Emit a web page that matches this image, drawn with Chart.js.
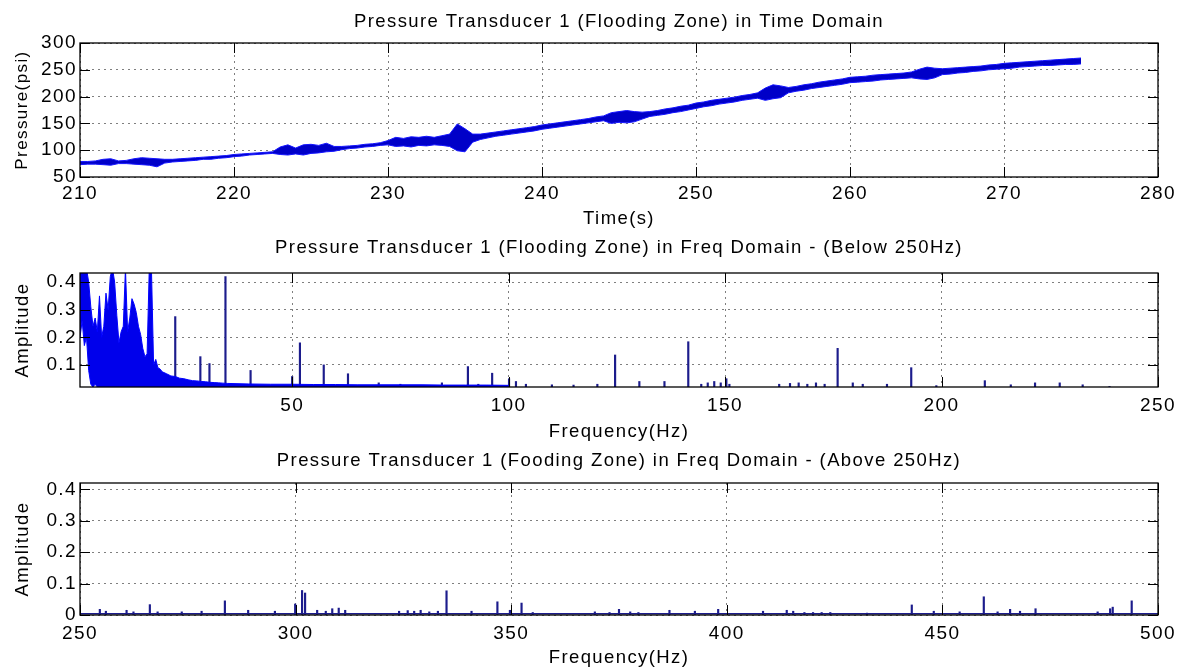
<!DOCTYPE html>
<html>
<head>
<meta charset="utf-8">
<title>Pressure Transducer 1 (Flooding Zone)</title>
<script src="https://cdn.jsdelivr.net/npm/chart.js@4.4.1/dist/chart.umd.min.js"></script>
<style>
    html, body { margin: 0; padding: 0; background: #fff; }
    #wrap { position: relative; width: 1177px; height: 667px; overflow: hidden; }
    canvas { position: absolute; left: 0; }
</style>
</head>
<body>
<div id="wrap">
    <canvas id="timeChart" width="1177" height="230" style="top:0px"></canvas>
    <canvas id="lowFreqChart" width="1177" height="215" style="top:230px"></canvas>
    <canvas id="highFreqChart" width="1177" height="222" style="top:445px"></canvas>
</div>
<script>
// Pressure transducer 1 (flooding zone) - time and frequency domain

// Time domain: band of the noisy trace (low / high edge), every 0.5 s
const time1 = [
    210, 210.5, 211, 211.5, 212, 212.5, 213, 213.5, 214, 214.5,
    215, 215.5, 216, 216.5, 217, 217.5, 218, 218.5, 219, 219.5,
    220, 220.5, 221, 221.5, 222, 222.5, 223, 223.5, 224, 224.5,
    225, 225.5, 226, 226.5, 227, 227.5, 228, 228.5, 229, 229.5,
    230, 230.5, 231, 231.5, 232, 232.5, 233, 233.5, 234, 234.5,
    235, 235.5, 236, 236.5, 237, 237.5, 238, 238.5, 239, 239.5,
    240, 240.5, 241, 241.5, 242, 242.5, 243, 243.5, 244, 244.5,
    245, 245.5, 246, 246.5, 247, 247.5, 248, 248.5, 249, 249.5,
    250, 250.5, 251, 251.5, 252, 252.5, 253, 253.5, 254, 254.5,
    255, 255.5, 256, 256.5, 257, 257.5, 258, 258.5, 259, 259.5,
    260, 260.5, 261, 261.5, 262, 262.5, 263, 263.5, 264, 264.5,
    265, 265.5, 266, 266.5, 267, 267.5, 268, 268.5, 269, 269.5,
    270, 270.5, 271, 271.5, 272, 272.5, 273, 273.5, 274, 274.5,
    275
];
const pressureLow = [
    73, 74, 74, 73, 72, 75, 75, 74, 73, 72,
    69, 76, 78, 79, 80, 81, 83, 83, 85, 86,
    88, 89, 91, 92, 93, 94, 92, 91, 93, 91,
    94, 95, 97, 98, 101, 103, 104, 106, 107, 109,
    110, 107, 108, 106, 109, 108, 110, 109, 107, 99,
    97, 115, 120, 123, 126, 128, 130, 132, 134, 136,
    139, 141, 143, 145, 147, 149, 151, 153, 155, 150,
    152, 151, 153, 158, 163, 165, 167, 170, 172, 175,
    178, 181, 183, 186, 188, 190, 193, 195, 197, 193,
    196, 198, 207, 210, 212, 215, 217, 219, 221, 223,
    226, 227, 228, 229, 231, 232, 233, 234, 235, 233,
    232, 235, 241, 242, 244, 245, 247, 248, 250, 251,
    252, 253, 255, 256, 257, 258, 258, 259, 260, 260,
    261
];
const pressureHigh = [
    79, 79, 80, 83, 84, 80, 81, 84, 86, 85,
    84, 83, 83, 84, 85, 86, 87, 88, 89, 90,
    92, 93, 94, 95, 96, 97, 106, 110, 104, 110,
    111, 109, 113, 107, 107, 108, 109, 111, 112, 114,
    118, 124, 122, 125, 124, 126, 124, 127, 130, 149,
    140, 130, 130, 132, 134, 136, 138, 140, 142, 144,
    147, 149, 151, 153, 155, 157, 159, 162, 164, 170,
    172, 174, 172, 171, 172, 174, 177, 179, 182, 184,
    188, 190, 193, 195, 197, 199, 202, 204, 207, 216,
    222, 220, 217, 219, 222, 224, 227, 229, 231, 233,
    236, 237, 238, 240, 241, 242, 243, 244, 246, 251,
    255, 253, 252, 253, 254, 255, 256, 257, 259, 260,
    262, 263, 264, 265, 266, 267, 268, 269, 270, 271,
    272
];
const timeTicks = [210, 220, 230, 240, 250, 260, 270, 280];
const pressureTicks = [50, 100, 150, 200, 250, 300];

// Below 250 Hz: dense low-frequency mass (low / high edge) and single peaks
const lowFreqBand = [
    1, 1.5, 2, 2.5, 3, 3.5, 4, 4.5, 5, 5.5,
    6, 6.5, 7, 7.5, 8, 8.5, 9, 9.5, 10, 10.5,
    11, 11.5, 12, 12.5, 13, 13.5, 14, 14.5, 15, 15.5,
    16, 16.5, 17, 17.5, 18, 18.5, 19, 19.5, 20, 21,
    22, 23, 24, 25, 26, 27, 28, 29, 30, 31,
    32, 33, 34, 35, 40, 45, 50, 55, 60, 65,
    70, 75, 80, 85, 90, 95, 100
];
const lowBandMin = [
    0.20, 0.26, 0.17, 0.20, 0.08, 0.03, 0.02, 0.03, 0.02, 0.02,
    0.02, 0.02, 0.02, 0.02, 0.02, 0.02, 0.02, 0.02, 0.02, 0.02,
    0.02, 0.02, 0.02, 0.02, 0.02, 0.02, 0.02, 0.02, 0.02, 0.02,
    0.02, 0.02, 0.02, 0.02, 0.02, 0.02, 0.02, 0.02, 0.02, 0.02,
    0.02, 0.02, 0.02, 0.02, 0.02, 0.02, 0.02, 0.02, 0.02, 0.02,
    0.02, 0.02, 0.02, 0.02, 0.02, 0.02, 0.02, 0.02, 0.02, 0.02,
    0.02, 0.02, 0.02, 0.02, 0.02, 0.02, 0.02
];
const lowBandMax = [
    0.45, 0.45, 0.45, 0.45, 0.40, 0.31, 0.24, 0.27, 0.22, 0.35,
    0.20, 0.24, 0.36, 0.30, 0.42, 0.45, 0.40, 0.28, 0.18, 0.22,
    0.24, 0.45, 0.22, 0.27, 0.34, 0.32, 0.29, 0.24, 0.21, 0.16,
    0.13, 0.14, 0.45, 0.45, 0.10, 0.12, 0.09, 0.085, 0.075, 0.068,
    0.06, 0.058, 0.052, 0.05, 0.046, 0.043, 0.042, 0.04, 0.039, 0.037,
    0.036, 0.035, 0.034, 0.033, 0.031, 0.03, 0.03, 0.029, 0.029, 0.028,
    0.028, 0.028, 0.028, 0.027, 0.027, 0.027, 0.026
];
const lowPeakFreq = [
    23.0, 28.8, 30.9, 34.6, 40.4, 50.0, 51.8, 57.3, 62.9, 70,
    75, 84.6, 90.6, 93, 96.2, 100.1, 101.7, 104, 110, 115,
    120.5, 124.6, 130.2, 136, 141.5, 144.5, 146, 147.5, 149, 150.3,
    151, 162.5, 165, 167, 169, 171, 173, 176, 179.5, 181.8,
    187.4, 193, 198.8, 210, 216, 221.6, 227.3, 232.6, 238.8
];
const lowPeakAmp = [
    0.275, 0.13, 0.105, 0.42, 0.08, 0.058, 0.18, 0.10, 0.068, 0.035,
    0.03, 0.035, 0.094, 0.03, 0.07, 0.05, 0.04, 0.03, 0.028, 0.027,
    0.03, 0.136, 0.04, 0.04, 0.184, 0.03, 0.035, 0.04, 0.035, 0.05,
    0.03, 0.03, 0.033, 0.035, 0.03, 0.035, 0.03, 0.16, 0.035, 0.03,
    0.03, 0.09, 0.025, 0.043, 0.028, 0.035, 0.035, 0.028, 0.022
];
const lowFreqTicks = [50, 100, 150, 200, 250];
const lowAmpTicks = [0.1, 0.2, 0.3, 0.4];

// Above 250 Hz: noise floor and single peaks
const floorFreq = [250, 500];
const floorAmp = [0.004, 0.004];
const highPeakFreq = [
    254.6, 256, 260.8, 262.4, 266.2, 268, 273.6, 278.2, 283.6, 289,
    295.2, 299.9, 301.5, 302.2, 305, 307, 308.5, 310, 311.5, 324,
    326, 327.5, 329, 331, 333, 335, 340.8, 346.8, 349.7, 352.4,
    355, 369.4, 372.8, 375, 377.6, 379.5, 386.7, 392.6, 398, 408.4,
    413.9, 415.4, 418, 420, 422, 424, 432.5, 442.9, 448, 454,
    459.6, 462.8, 465.7, 468, 471.6, 486, 488.9, 489.5, 493.9
];
const highPeakAmp = [
    0.018, 0.012, 0.015, 0.01, 0.033, 0.01, 0.01, 0.012, 0.045, 0.015,
    0.012, 0.035, 0.078, 0.07, 0.015, 0.012, 0.02, 0.022, 0.015, 0.012,
    0.014, 0.012, 0.015, 0.01, 0.012, 0.077, 0.012, 0.042, 0.015, 0.038,
    0.008, 0.01, 0.008, 0.018, 0.01, 0.008, 0.015, 0.012, 0.018, 0.012,
    0.015, 0.012, 0.008, 0.008, 0.008, 0.008, 0.006, 0.032, 0.012, 0.01,
    0.058, 0.01, 0.018, 0.012, 0.02, 0.01, 0.02, 0.025, 0.045
];
const highFreqTicks = [250, 300, 350, 400, 450, 500];
const highAmpTicks = [0, 0.1, 0.2, 0.3, 0.4];

const FONT = '"Liberation Sans", Arial, Helvetica, sans-serif';
const GRID = 'rgba(0, 0, 0, 0.5)';
const SPIKE = 'rgb(28, 28, 140)';

Chart.defaults.font.family = FONT;
Chart.defaults.color = '#000';
Chart.defaults.animation = false;

// MATLAB-like axes: closed box, inward tick marks, wider letter spacing
const matlabAxes = {
    id: 'matlabAxes',
    beforeUpdate(chart) { chart.ctx.letterSpacing = '1.4px'; },
    beforeDraw(chart) { chart.ctx.letterSpacing = '1.4px'; },
    afterDatasetsDraw(chart) {
        const { ctx, chartArea: a, scales } = chart;
        const len = 10;
        ctx.save();
        ctx.setLineDash([]);
        ctx.strokeStyle = '#000';
        ctx.lineWidth = 1;
        ctx.beginPath();
        scales.x.ticks.forEach(t => {
            const px = Math.round(scales.x.getPixelForValue(t.value)) + 0.5;
            ctx.moveTo(px, a.bottom); ctx.lineTo(px, a.bottom - len);
            ctx.moveTo(px, a.top); ctx.lineTo(px, a.top + len);
        });
        scales.y.ticks.forEach(t => {
            const py = Math.round(scales.y.getPixelForValue(t.value)) + 0.5;
            ctx.moveTo(a.left, py); ctx.lineTo(a.left + len, py);
            ctx.moveTo(a.right, py); ctx.lineTo(a.right - len, py);
        });
        ctx.stroke();
        ctx.lineWidth = 1.3;
        ctx.strokeRect(a.left, a.top, a.right - a.left, a.bottom - a.top);
        ctx.restore();
    }
};

function xAxis(min, max, tickList, titleText, height, labelPad, titleLine) {
    return {
        type: 'linear',
        min: min,
        max: max,
        offset: false,
        afterBuildTicks: axis => { axis.ticks = tickList.map(v => ({ value: v })); },
        afterFit: axis => {
            axis.height = height;
            axis.paddingLeft = 0;
            axis.paddingRight = 0;
        },
        ticks: { padding: labelPad, font: { size: 19 }, maxRotation: 0, autoSkip: false },
        grid: { color: GRID, drawTicks: false, offset: false },
        border: { display: false, dash: [2, 4] },
        title: {
            display: true,
            text: titleText,
            font: { size: 18.5, lineHeight: titleLine },
            padding: { top: 0, bottom: 0 }
        }
    };
}

function yAxis(min, max, tickList, titleText, titleSize, fmt) {
    return {
        type: 'linear',
        min: min,
        max: max,
        afterBuildTicks: axis => { axis.ticks = tickList.map(v => ({ value: v })); },
        afterFit: axis => {
            axis.width = 80;
            axis.paddingTop = 0;
            axis.paddingBottom = 0;
        },
        ticks: { padding: 3, font: { size: 19 }, callback: fmt },
        grid: { color: GRID, drawTicks: false },
        border: { display: false, dash: [2, 4] },
        title: { display: true, text: titleText, font: { size: titleSize }, padding: { top: 12, bottom: 0 } }
    };
}

function chartTitle(text, padTop, padBottom) {
    return {
        display: true,
        fullSize: false,
        text: text,
        color: '#000',
        font: { size: 18.5, weight: 'normal', lineHeight: '22px' },
        padding: { top: padTop, bottom: padBottom }
    };
}

// Time domain chart
new Chart(document.getElementById('timeChart'), {
    type: 'line',
    data: {
        datasets: [{
            data: time1.map((t, i) => ({ x: t, y: pressureLow[i] })),
            borderColor: 'rgb(20, 20, 255)',
            borderWidth: 1,
            pointRadius: 0,
            fill: false,
            clip: 0
        }, {
            data: time1.map((t, i) => ({ x: t, y: pressureHigh[i] })),
            borderColor: 'rgb(20, 20, 255)',
            backgroundColor: 'rgb(0, 0, 200)',
            borderWidth: 1,
            pointRadius: 0,
            fill: '-1',
            clip: 0
        }]
    },
    options: {
        responsive: false,
        devicePixelRatio: 1,
        events: [],
        layout: { padding: { left: 0, right: 19, top: 0, bottom: 0 } },
        plugins: {
            legend: { display: false },
            tooltip: { enabled: false },
            title: chartTitle('Pressure Transducer 1 (Flooding Zone) in Time Domain', 11, 10)
        },
        scales: {
            x: xAxis(210, 280, timeTicks, 'Time(s)', 53, 5, '22px'),
            y: yAxis(50, 300, pressureTicks, 'Pressure(psi)', 17, v => v)
        }
    },
    plugins: [matlabAxes]
});

// Frequency domain, below 250 Hz
new Chart(document.getElementById('lowFreqChart'), {
    type: 'bar',
    data: {
        datasets: [{
            type: 'line',
            data: lowFreqBand.map((f, i) => ({ x: f, y: lowBandMin[i] })),
            borderColor: 'rgb(0, 0, 255)',
            borderWidth: 1,
            pointRadius: 0,
            fill: false,
            clip: 0
        }, {
            type: 'line',
            data: lowFreqBand.map((f, i) => ({ x: f, y: lowBandMax[i] })),
            borderColor: 'rgb(0, 0, 255)',
            backgroundColor: 'rgb(0, 0, 235)',
            borderWidth: 1,
            pointRadius: 0,
            fill: '-1',
            clip: 0
        }, {
            type: 'bar',
            data: lowPeakFreq.map((f, i) => ({ x: f, y: [0, lowPeakAmp[i]] })),
            backgroundColor: SPIKE,
            barThickness: 1.5,
            grouped: false,
            clip: 0
        }]
    },
    options: {
        responsive: false,
        devicePixelRatio: 1,
        events: [],
        layout: { padding: { left: 0, right: 19, top: 0, bottom: 0 } },
        plugins: {
            legend: { display: false },
            tooltip: { enabled: false },
            title: chartTitle('Pressure Transducer 1 (Flooding Zone) in Freq Domain - (Below 250Hz)', 7, 14)
        },
        scales: {
            x: xAxis(1, 250, lowFreqTicks, 'Frequency(Hz)', 58, 7, '26px'),
            y: yAxis(0.02, 0.433, lowAmpTicks, 'Amplitude', 18.5, v => v.toFixed(1))
        }
    },
    plugins: [matlabAxes]
});

// Frequency domain, above 250 Hz
new Chart(document.getElementById('highFreqChart'), {
    type: 'bar',
    data: {
        datasets: [{
            type: 'line',
            data: floorFreq.map((f, i) => ({ x: f, y: floorAmp[i] })),
            borderColor: SPIKE,
            borderWidth: 1.5,
            pointRadius: 0,
            fill: false,
            clip: 0
        }, {
            type: 'bar',
            data: highPeakFreq.map((f, i) => ({ x: f, y: [0, highPeakAmp[i]] })),
            backgroundColor: SPIKE,
            barThickness: 1.5,
            grouped: false,
            clip: 0
        }]
    },
    options: {
        responsive: false,
        devicePixelRatio: 1,
        events: [],
        layout: { padding: { left: 0, right: 19, top: 0, bottom: 0 } },
        plugins: {
            legend: { display: false },
            tooltip: { enabled: false },
            title: chartTitle('Pressure Transducer 1 (Fooding Zone) in Freq Domain - (Above 250Hz)', 5, 11)
        },
        scales: {
            x: xAxis(250, 500, highFreqTicks, 'Frequency(Hz)', 52, 7, '19px'),
            y: yAxis(0, 0.42, highAmpTicks, 'Amplitude', 18.5, v => (v === 0 ? '0' : v.toFixed(1)))
        }
    },
    plugins: [matlabAxes]
});
</script>
</body>
</html>
